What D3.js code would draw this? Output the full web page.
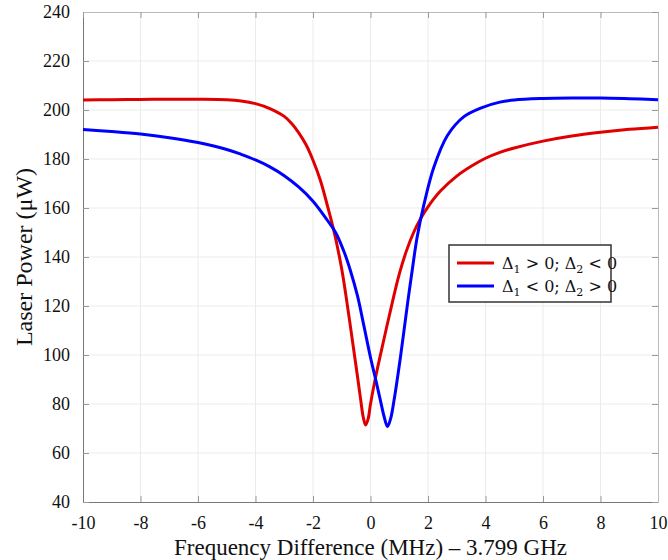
<!DOCTYPE html>
<html>
<head>
<meta charset="utf-8">
<script src="https://cdn.jsdelivr.net/npm/d3@7"></script>
<style>
  body { margin: 0; background: #fff; }
  svg { display: block; }
</style>
</head>
<body>
<div id="chart"></div>
<script>
// values
const redX = [-10, -9, -8, -7, -6, -5, -4.5, -4, -3.5, -3, -2.75, -2.5, -2.25, -2, -1.75, -1.5, -1.25, -1.0, -0.87, -0.6, -0.45, -0.35, -0.25, -0.17, -0.08, 0, 0.17, 0.45, 0.76, 1.0, 1.25, 1.5, 1.75, 2.0, 2.44, 3.0, 3.5, 4, 4.5, 5, 6, 7, 8, 9, 10];
const redY = [204.1, 204.2, 204.3, 204.4, 204.4, 204.2, 203.7, 202.6, 200.6, 197.4, 194.6, 190.8, 186, 179.5, 171.5, 161, 149.5, 135, 125.5, 103.5, 91, 82.5, 74.5, 71.4, 74, 80, 90.5, 105.5, 121.5, 133, 142.5, 150, 155.8, 160.5, 167, 173, 177, 180.3, 182.7, 184.5, 187.3, 189.4, 190.9, 192.1, 193];
const blueX = [-10, -9, -8, -7, -6, -5, -4.5, -4, -3.5, -3, -2.5, -2, -1.5, -1.2, -0.9, -0.7, -0.45, -0.24, 0, 0.17, 0.35, 0.47, 0.59, 0.7, 0.82, 1.04, 1.3, 1.45, 1.62, 1.86, 2.2, 2.67, 3.25, 3.83, 4.5, 5, 6, 7, 8, 9, 10];
const blueY = [192, 191.2, 190.2, 188.7, 186.7, 183.9, 181.9, 179.6, 176.8, 173.2, 168.6, 162.8, 155, 149.7, 141.5, 134.5, 124, 112.5, 99, 90.5, 81.2, 75, 70.8, 74, 81.6, 99, 122, 134.5, 148, 161.5, 176.5, 189.5, 197.3, 200.8, 203.2, 204.1, 204.7, 204.9, 204.9, 204.6, 204.2];
const xTicks = [-10, -8, -6, -4, -2, 0, 2, 4, 6, 8, 10];
const yTicks = [40, 60, 80, 100, 120, 140, 160, 180, 200, 220, 240];
const legendLabels = [["1", " > 0; ", "2", " < 0"], ["1", " < 0; ", "2", " > 0"]];
const colors = ["#e00000", "#0000ff"];

const width = 668, height = 560;
const margin = { top: 12, right: 10, bottom: 58, left: 83 };
const innerW = width - margin.left - margin.right;
const innerH = height - margin.top - margin.bottom;

const svg = d3.select("#chart").append("svg")
  .attr("width", width)
  .attr("height", height);

const g = svg.append("g").attr("transform", `translate(${margin.left},${margin.top})`);

const x = d3.scaleLinear().domain([-10, 10]).range([0, innerW]);
const y = d3.scaleLinear().domain([40, 240]).range([innerH, 0]);

// grid
g.append("g").selectAll("line").data(xTicks.slice(1, -1)).join("line")
  .attr("x1", d => x(d)).attr("x2", d => x(d))
  .attr("y1", 0).attr("y2", innerH)
  .attr("stroke", "#ebebeb").attr("stroke-width", 1);
g.append("g").selectAll("line").data(yTicks.slice(1, -1)).join("line")
  .attr("y1", d => y(d)).attr("y2", d => y(d))
  .attr("x1", 0).attr("x2", innerW)
  .attr("stroke", "#ebebeb").attr("stroke-width", 1);

// axes, ticks pointing inward
const font = "'Liberation Serif', 'Times New Roman', serif";
const plain = d => String(d); // hyphen minus like the reference
const xAxis = g.append("g").attr("transform", `translate(0,${innerH})`)
  .call(d3.axisBottom(x).tickValues(xTicks).tickFormat(plain).tickSize(-6).tickPadding(14).tickSizeOuter(0));
const yAxis = g.append("g")
  .call(d3.axisLeft(y).tickValues(yTicks).tickFormat(plain).tickSize(-6).tickPadding(13).tickSizeOuter(0));
g.append("g")
  .call(d3.axisTop(x).tickValues(xTicks).tickSize(-6).tickFormat("").tickSizeOuter(0))
  .call(a => a.select(".domain").attr("stroke", "#bbb"));
g.append("g").attr("transform", `translate(${innerW},0)`)
  .call(d3.axisRight(y).tickValues(yTicks).tickSize(-6).tickFormat("").tickSizeOuter(0))
  .call(a => a.select(".domain").attr("stroke", "#bbb"));

[xAxis, yAxis].forEach(a => {
  a.select(".domain").attr("stroke", "#777");
  a.selectAll("text").attr("font-family", font).attr("font-size", 18).attr("fill", "#111");
});
g.selectAll(".tick line").attr("stroke", "#999");

// curves
const line = d3.line()
  .x(d => x(d[0]))
  .y(d => y(d[1]))
  .curve(d3.curveCatmullRom.alpha(0.5));

const series = [
  d3.zip(redX, redY),
  d3.zip(blueX, blueY)
];

g.selectAll(".curve").data(series).join("path")
  .attr("class", "curve")
  .attr("fill", "none")
  .attr("stroke", (d, i) => colors[i])
  .attr("stroke-width", 3)
  .attr("stroke-linejoin", "round")
  .attr("d", line);

// axis titles
svg.append("text")
  .attr("x", margin.left + x(0))
  .attr("y", 555)
  .attr("text-anchor", "middle")
  .attr("font-family", font)
  .attr("font-size", 23)
  .attr("fill", "#111")
  .text("Frequency Difference (MHz) – 3.799 GHz");

svg.append("text")
  .attr("transform", `translate(32,${margin.top + innerH / 2}) rotate(-90)`)
  .attr("text-anchor", "middle")
  .attr("font-family", font)
  .attr("font-size", 24)
  .attr("fill", "#111")
  .text("Laser Power (μW)");

// legend
const lg = svg.append("g").attr("transform", "translate(449,245)");
lg.append("rect")
  .attr("width", 162).attr("height", 57)
  .attr("fill", "#fff").attr("stroke", "#333").attr("stroke-width", 1.5);
const items = lg.selectAll(".item").data(legendLabels).join("g")
  .attr("class", "item")
  .attr("transform", (d, i) => `translate(0,${18 + i * 23})`);
items.append("line")
  .attr("x1", 8).attr("x2", 45)
  .attr("stroke", (d, i) => colors[i]).attr("stroke-width", 3);
const txt = items.append("text")
  .attr("x", 53).attr("y", 6)
  .attr("font-family", "'DejaVu Serif', serif")
  .attr("font-size", 16)
  .attr("fill", "#111");
txt.each(function (parts) {
  const t = d3.select(this);
  t.append("tspan").text("Δ");
  t.append("tspan").attr("font-size", 11).attr("dy", 4).text(parts[0]);
  t.append("tspan").attr("dy", -4).text(parts[1] + "Δ");
  t.append("tspan").attr("font-size", 11).attr("dy", 4).text(parts[2]);
  t.append("tspan").attr("dy", -4).text(parts[3]);
});
</script>
</body>
</html>
